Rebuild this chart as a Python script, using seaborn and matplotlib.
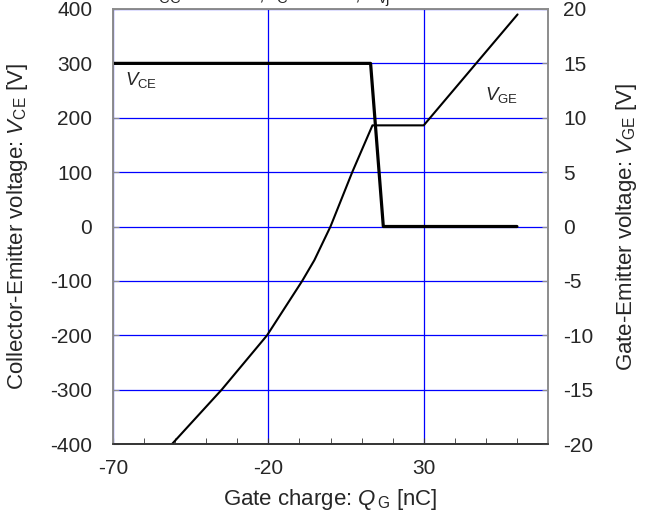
import numpy as np
import pandas as pd
import matplotlib
matplotlib.use("Agg")
import matplotlib.pyplot as plt
import seaborn as sns

# gate charge curve
qg_vce = [-70, 12.9, 17, 60]
vce = [300, 300, 0, 0]

qg_vge = [-51, -35, -20.4, -9.1, -5.2, 0, 7, 13.5, 30, 60.2]
vge = [-20, -15, -10, -5, -3.1, 0, 5, 9.3, 9.3, 19.5]

x_ticks = [-70, -20, 30]
left_ticks = list(range(-400, 401, 100))
right_ticks = list(range(-20, 21, 5))

sns.set_style("white")
plt.rcParams['font.family'] = ['Liberation Sans', 'DejaVu Sans']
plt.rcParams['mathtext.fontset'] = 'custom'
plt.rcParams['mathtext.rm'] = 'Liberation Sans'
plt.rcParams['mathtext.it'] = 'Liberation Sans:italic'
plt.rcParams['axes.unicode_minus'] = False

fs = 15
lfs = 16

fig = plt.figure(figsize=(6.5, 5.13), dpi=100)
ax = fig.add_axes([113/650, 1 - 444/513, 435/650, 435/513])
ax2 = ax.twinx()

df_ce = pd.DataFrame({"Q": qg_vce, "V": vce})
df_ge = pd.DataFrame({"Q": qg_vge, "V": vge})
sns.lineplot(data=df_ce, x="Q", y="V", ax=ax, color="black", lw=2.3, sort=False)
sns.lineplot(data=df_ge, x="Q", y="V", ax=ax2, color="black", lw=1.5, sort=False)

ax.set_xlim(-70, 70)
ax.set_ylim(-400, 400)
ax2.set_ylim(-20, 20)
ax.set_xticks(x_ticks)
ax.set_xticks(range(-70, 71, 10), minor=True)
ax.set_yticks(left_ticks)
ax2.set_yticks(right_ticks)

ax.grid(True, which="major", color="#0000ff", lw=0.9)
ax.set_axisbelow(True)

grey = "#8c8c8c"
for a in (ax, ax2):
    for s in a.spines.values():
        s.set_color(grey)
        s.set_linewidth(1.2)
    a.spines["bottom"].set_color("#333333")
ax.tick_params(axis="y", direction="in", length=4, color=grey, labelsize=fs, pad=15)
ax2.tick_params(axis="y", direction="in", length=4, color=grey, labelsize=fs, pad=11)
ax.tick_params(axis="x", which="both", direction="in", length=4, color="#333333",
               labelsize=fs, pad=11, bottom=True)

ax.set_xlabel(r"Gate charge: $\mathit{Q}_{\,\mathrm{G}}$ [nC]", fontsize=lfs)
ax.set_ylabel(r"Collector-Emitter voltage: $\mathit{V}_{\mathrm{CE}}$ [V]", fontsize=lfs)
ax2.set_ylabel(r"Gate-Emitter voltage: $\mathit{V}_{\mathrm{GE}}$ [V]", fontsize=lfs)
ax.xaxis.set_label_coords(0.5, -0.1)
ax.yaxis.set_label_coords(-0.19, 0.5)
ax2.yaxis.set_label_coords(1.152, 0.5)

ax.text(0.027, 0.825, r"$\mathit{V}_{\mathrm{CE}}$", transform=ax.transAxes, fontsize=13.5)
ax.text(0.855, 0.79, r"$\mathit{V}_{\mathrm{GE}}$", transform=ax.transAxes, fontsize=13.5)

# condition line, mostly cut off at the top edge as in the source
fig.text(0.47, 1.009, r"$\mathit{V}_{\mathrm{CC}}$ = 300 V, $\mathit{I}_{\mathrm{C}}$ = 30 A, $\mathit{T}_{\mathrm{vj}}$ = 25 °C",
         ha="center", va="center", fontsize=fs)

fig.savefig("out.png", dpi=100)
